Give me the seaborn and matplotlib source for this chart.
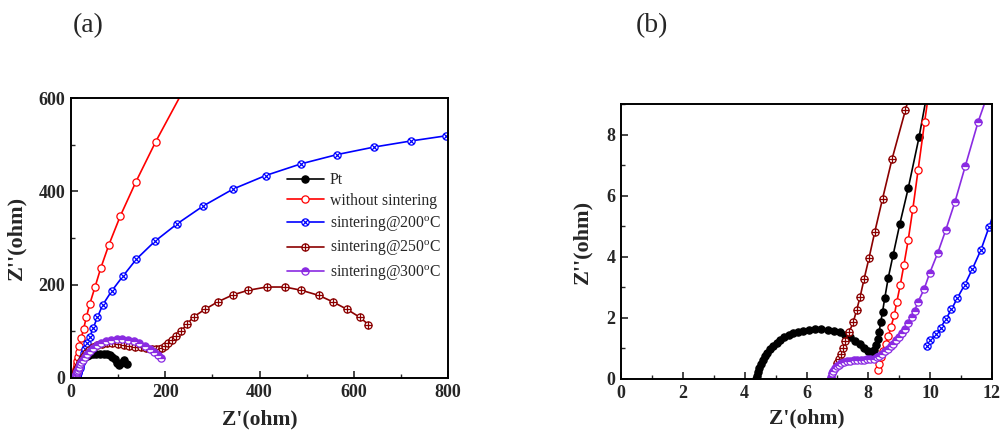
import numpy as np
import matplotlib
matplotlib.use("Agg")
import matplotlib.pyplot as plt
from matplotlib.path import Path
from matplotlib.ticker import MultipleLocator
import seaborn as sns

# ---------------- data (Z' , Z'') in ohm ----------------
pt_x = [4.38, 4.40, 4.43, 4.47, 4.52, 4.58, 4.65, 4.73, 4.82, 4.92,
        5.03, 5.15, 5.28, 5.42, 5.57, 5.73, 5.90, 6.08, 6.28, 6.48,
        6.68, 6.88, 7.07, 7.25, 7.42, 7.58, 7.73, 7.87, 7.98, 8.06,
        8.13, 8.19, 8.25, 8.30, 8.35, 8.40, 8.46, 8.53, 8.64, 8.80,
        9.02, 9.29, 9.64, 10.0, 10.5, 11.2, 12.1, 13.3, 15.0, 17.2,
        20.0, 23.5, 28.0, 33.0, 39.0, 46.0, 54.0, 62.0, 70.0, 77.0,
        83.0, 88.0, 93.0, 97.0, 101.0, 106.0, 112.0, 119.0]
pt_y = [0.00, 0.10, 0.22, 0.35, 0.48, 0.61, 0.74, 0.86, 0.98, 1.09,
        1.19, 1.28, 1.36, 1.43, 1.49, 1.54, 1.58, 1.61, 1.62, 1.62,
        1.61, 1.58, 1.53, 1.45, 1.36, 1.25, 1.13, 1.01, 0.91, 0.85,
        0.86, 0.95, 1.10, 1.30, 1.55, 1.85, 2.20, 2.64, 3.29, 4.05,
        5.08, 6.24, 7.91, 9.9, 12.4, 15.5, 19.3, 23.5, 28.0, 32.5,
        36.5, 40.5, 44.0, 47.0, 49.5, 51.0, 52.0, 52.5, 52.0, 51.0,
        49.0, 46.0, 40.0, 33.0, 28.0, 32.0, 38.0, 31.0]

red_x = [8.32, 8.36, 8.41, 8.48, 8.56, 8.65, 8.73, 8.84, 8.92, 9.03,
         9.15, 9.29, 9.44, 9.61, 9.82, 10.10, 10.45, 10.90, 11.40, 12.00,
         12.80, 13.80, 15.00, 16.40, 18.00, 22.00, 27.00, 32.50, 40.00, 51.00,
         63.00, 80.60, 105.0, 138.0, 179.5, 236.0]
red_y = [0.28, 0.50, 0.72, 0.92, 1.13, 1.40, 1.70, 2.09, 2.52, 3.06,
         3.73, 4.55, 5.57, 6.84, 8.41, 10.4, 12.8, 15.8, 19.4, 24.0,
         29.5, 36.5, 45.0, 55.5, 69.0, 86.0, 106.0, 130.0, 159.0, 195.0,
         235.0, 286.0, 348.0, 421.0, 506.0, 612.0]

blue_x = [9.90, 10.01, 10.18, 10.34, 10.50, 10.69, 10.88, 11.12, 11.36, 11.64,
          11.90, 12.20, 12.60, 13.05, 13.60, 14.20, 14.95, 15.80, 16.90, 18.10,
          19.60, 21.40, 23.50, 25.50, 27.50, 30.50, 34.00, 40.00, 47.50, 56.00,
          67.0, 86.0, 110.0, 139.0, 178.0, 226.0, 281.0, 344.0, 413.0, 488.0,
          565.0, 643.0, 721.0, 795.0, 870.0]
blue_y = [1.07, 1.29, 1.47, 1.68, 1.95, 2.28, 2.65, 3.09, 3.59, 4.22,
          4.96, 5.85, 6.90, 8.15, 9.60, 11.4, 13.5, 16.0, 19.0, 22.5,
          26.7, 31.6, 37.5, 44.5, 52.7, 62.0, 74.0, 88.0, 108.0, 130.0,
          156.0, 186.0, 218.0, 255.0, 293.0, 331.0, 369.0, 405.0, 434.0, 459.0,
          479.0, 495.0, 508.0, 519.0, 527.0]

brown_x = [7.00, 7.06, 7.11, 7.19, 7.26, 7.38, 7.51, 7.62, 7.73, 7.86,
           8.02, 8.21, 8.46, 8.77, 9.20, 9.70, 10.4, 11.3, 12.5, 14.1,
           16.2, 19.0, 22.5, 27.0, 32.5, 39.0, 47.0, 56.0, 66.0, 77.0,
           88.0, 100.0, 112.0, 124.0, 136.0, 148.0, 160.0, 172.0, 181.0, 187.0,
           193.0, 199.0, 206.0, 214.0, 223.0, 234.0, 246.0, 260.0, 284.0, 311.0,
           343.0, 376.0, 415.0, 454.0, 489.0, 526.0, 556.0, 586.0, 613.0, 631.0]
brown_y = [0.52, 0.66, 0.83, 1.00, 1.25, 1.54, 1.85, 2.25, 2.67, 3.26,
           3.95, 4.82, 5.90, 7.21, 8.80, 10.7, 13.0, 15.8, 19.2, 23.3,
           28.2, 34.0, 40.5, 47.5, 54.5, 61.0, 66.5, 70.5, 73.0, 74.0,
           74.0, 73.0, 71.5, 69.5, 67.5, 65.5, 64.0, 63.0, 62.5, 63.0,
           65.0, 68.5, 74.0, 81.0, 90.0, 101.0, 115.0, 131.0, 147.0, 163.0,
           178.0, 188.0, 195.0, 195.0, 188.0, 177.0, 163.0, 147.0, 130.0, 114.5]

purple_x = [6.80, 6.83, 6.87, 6.92, 6.98, 7.05, 7.13, 7.22, 7.32, 7.42,
            7.53, 7.64, 7.75, 7.86, 7.97, 8.07, 8.17, 8.27, 8.36, 8.45,
            8.54, 8.63, 8.72, 8.81, 8.90, 8.99, 9.08, 9.18, 9.28, 9.40,
            9.50, 9.61, 9.80, 9.99, 10.24, 10.50, 10.80, 11.14, 11.55, 12.1,
            12.8, 13.6, 14.6, 16.0, 17.5, 19.5, 22.0, 25.0, 29.0, 34.0,
            40.0, 47.0, 55.0, 64.0, 74.0, 85.0, 97.0, 109.0, 121.0, 133.0,
            145.0, 157.0, 167.0, 176.0, 184.0, 191.0]
purple_y = [0.08, 0.18, 0.27, 0.35, 0.42, 0.47, 0.52, 0.55, 0.58, 0.60,
            0.61, 0.62, 0.62, 0.63, 0.64, 0.65, 0.67, 0.71, 0.76, 0.82,
            0.90, 0.98, 1.07, 1.16, 1.26, 1.37, 1.50, 1.65, 1.82, 2.02,
            2.24, 2.53, 2.93, 3.48, 4.11, 4.86, 5.79, 6.98, 8.41, 10.0,
            12.0, 14.4, 17.2, 20.5, 24.5, 29.0, 34.0, 39.5, 45.5, 52.0,
            58.5, 64.5, 70.0, 75.0, 79.0, 82.0, 83.5, 83.5, 82.0, 79.5,
            75.5, 69.5, 62.5, 55.5, 49.0, 43.0]

labels = ["Pt", "without sintering",
          r"sintering@200$^{\mathrm{o}}$C",
          r"sintering@250$^{\mathrm{o}}$C",
          r"sintering@300$^{\mathrm{o}}$C"]
panel_labels = ["(a)", "(b)"]

# ---------------- style ----------------
sns.set_style("ticks")
plt.rcParams["font.family"] = ["Liberation Serif", "DejaVu Serif"]
plt.rcParams["mathtext.fontset"] = "custom"
plt.rcParams["mathtext.rm"] = "Liberation Serif"
plt.rcParams["xtick.direction"] = "in"
plt.rcParams["ytick.direction"] = "in"

circ = Path.unit_circle()
plus = Path([[-1, 0], [1, 0], [0, -1], [0, 1]],
            [Path.MOVETO, Path.LINETO, Path.MOVETO, Path.LINETO])
d = 0.7071
cross = Path([[-d, -d], [d, d], [-d, d], [d, -d]],
             [Path.MOVETO, Path.LINETO, Path.MOVETO, Path.LINETO])
m_oplus = Path.make_compound_path(circ, plus)
m_otimes = Path.make_compound_path(circ, cross)

series = [
    (pt_x, pt_y, dict(color="black", marker="o", markerfacecolor="black",
                      markeredgecolor="black")),
    (red_x, red_y, dict(color="#ff0000", marker="o", markerfacecolor="white",
                        markeredgecolor="#ff0000")),
    (blue_x, blue_y, dict(color="#0000ff", marker=m_otimes, markerfacecolor="white",
                          markeredgecolor="#0000ff")),
    (brown_x, brown_y, dict(color="#8b0000", marker=m_oplus, markerfacecolor="white",
                            markeredgecolor="#8b0000")),
    (purple_x, purple_y, dict(color="#8a2be2", marker="o", markerfacecolor="#8a2be2",
                              markerfacecoloralt="white", fillstyle="top",
                              markeredgecolor="#8a2be2")),
]

fig = plt.figure(figsize=(10.01, 4.32), dpi=100)
ax_a = fig.add_axes([0.0709, 0.125, 0.3767, 0.648])
ax_b = fig.add_axes([0.6204, 0.1227, 0.3706, 0.6366])

for ax in (ax_a, ax_b):
    for (xs, ys, kw), lab in zip(series, labels):
        sns.lineplot(x=xs, y=ys, sort=False, estimator=None, ax=ax,
                     linewidth=1.2, markersize=5.2, markeredgewidth=0.9,
                     label=lab if ax is ax_a else None, **kw)

ax_a.set_xlim(0, 800)
ax_a.set_ylim(0, 600)
ax_a.xaxis.set_major_locator(MultipleLocator(200))
ax_a.xaxis.set_minor_locator(MultipleLocator(100))
ax_a.yaxis.set_major_locator(MultipleLocator(200))
ax_a.yaxis.set_minor_locator(MultipleLocator(100))

ax_b.set_xlim(0, 12)
ax_b.set_ylim(0, 9)
ax_b.xaxis.set_major_locator(MultipleLocator(2))
ax_b.xaxis.set_minor_locator(MultipleLocator(1))
ax_b.yaxis.set_major_locator(MultipleLocator(2))
ax_b.yaxis.set_minor_locator(MultipleLocator(1))

for ax in (ax_a, ax_b):
    for sp in ax.spines.values():
        sp.set_visible(True)
        sp.set_linewidth(1.4)
        sp.set_color("black")
    ax.tick_params(which="major", length=5, width=1.2, direction="in",
                   labelsize=13, pad=4)
    ax.tick_params(which="minor", length=3, width=1.0, direction="in")
    for t in ax.get_xticklabels() + ax.get_yticklabels():
        t.set_fontweight("bold")
    ax.set_xlabel("Z'(ohm)", fontsize=15.5, fontweight="bold")
    ax.set_ylabel("Z''(ohm)", fontsize=16, fontweight="bold")

ax_a.xaxis.set_label_coords(0.5, -0.112)
ax_a.yaxis.set_label_coords(-0.118, 0.5)
ax_b.xaxis.set_label_coords(0.5, -0.108)
ax_b.yaxis.set_label_coords(-0.078, 0.5)

ax_a.legend(loc="upper left", bbox_to_anchor=(0.572, 0.735), frameon=False,
            fontsize=11.3, handlelength=2.4, handletextpad=0.35,
            labelspacing=0.3, borderpad=0, borderaxespad=0)

fig.text(88 / 1001, 1 - 26 / 432, panel_labels[0], fontsize=20,
         ha="center", va="center")
fig.text(652 / 1001, 1 - 26 / 432, panel_labels[1], fontsize=20,
         ha="center", va="center")

fig.savefig("out.png", dpi=100, facecolor="white")
